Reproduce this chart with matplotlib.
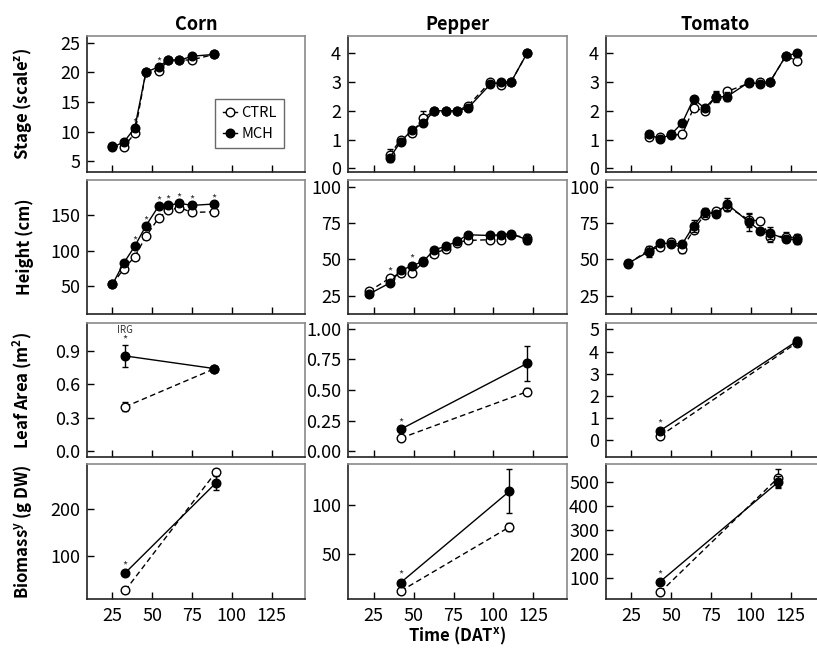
import matplotlib
matplotlib.use('Agg')
import matplotlib.pyplot as plt
from matplotlib.lines import Line2D

plt.rcParams['font.family'] = ['Noto Sans CJK KR', 'DejaVu Sans']
plt.rcParams['mathtext.default'] = 'regular'

# ---------------- data ----------------
crops = ['Corn', 'Pepper', 'Tomato']
row_labels = ['Stage (scale$^{z}$)', 'Height (cm)', 'Leaf Area (m$^{2}$)', 'Biomass$^{y}$ (g DW)']
x_label = 'Time (DAT$^{x}$)'
x_ticks = [25, 50, 75, 100, 125]

# Corn
corn_weekly_x = [25, 32, 39, 46, 54, 60, 67, 75, 89]
corn_stage_ctrl = [7.6, 7.4, 9.7, 20.0, 20.2, 22.0, 22.0, 22.1, 23.0]
corn_stage_mch = [7.4, 8.2, 10.6, 20.0, 20.9, 22.1, 22.0, 22.7, 23.0]
corn_stage_sig = [2, 4]
corn_height_ctrl = [52, 74, 91, 120, 146, 157, 161, 154, 155]
corn_height_mch = [52, 82, 106, 135, 163, 164, 167, 164, 166]
corn_height_sig = [2, 3, 4, 5, 6, 7, 8]
corn_leaf_x = [33, 89]
corn_leaf_ctrl = [0.40, 0.74]
corn_leaf_ctrl_err = [0.04, 0.02]
corn_leaf_mch = [0.855, 0.742]
corn_leaf_mch_err = [0.10, 0.02]
corn_leaf_sig = [0]
corn_bio_x = [33, 90]
corn_bio_ctrl = [28, 278]
corn_bio_ctrl_err = [2, 6]
corn_bio_mch = [65, 255]
corn_bio_mch_err = [3, 15]
corn_bio_sig = [0]

# Pepper
pepper_stage_x = [35, 42, 49, 56, 63, 70, 77, 84, 98, 105, 111, 121]
pepper_stage_ctrl = [0.46, 1.0, 1.22, 1.74, 2.0, 2.0, 2.0, 2.17, 3.0, 2.9, 3.0, 4.0]
pepper_stage_ctrl_err = [0.2, 0.05, 0.1, 0.25, 0, 0, 0, 0.08, 0.05, 0.05, 0, 0]
pepper_stage_mch = [0.35, 0.93, 1.33, 1.57, 2.0, 2.0, 2.0, 2.09, 2.92, 3.0, 3.0, 4.0]
pepper_stage_mch_err = [0.12, 0.05, 0.12, 0.1, 0, 0, 0, 0.05, 0.05, 0, 0, 0]
pepper_height_x = [22, 35, 42, 49, 56, 63, 70, 77, 84, 98, 105, 111, 121]
pepper_height_ctrl = [28, 37, 40.6, 40.6, 48, 53.7, 57.3, 61.5, 63, 63.5, 63.5, 67, 64.7]
pepper_height_mch = [26.1, 33.7, 42.4, 45.6, 48.6, 56.6, 58.9, 62.3, 66.9, 66.4, 66.9, 67.6, 63.5]
pepper_height_err = [1, 1, 1, 1, 1, 1, 1, 1, 1, 1, 1, 1, 3]
pepper_height_sig = [1, 3]
pepper_leaf_x = [42, 121]
pepper_leaf_ctrl = [0.108, 0.486]
pepper_leaf_ctrl_err = [0.01, 0.03]
pepper_leaf_mch = [0.181, 0.716]
pepper_leaf_mch_err = [0.01, 0.14]
pepper_leaf_sig = [0]
pepper_bio_x = [42, 110]
pepper_bio_ctrl = [12.8, 77.4]
pepper_bio_ctrl_err = [1, 4]
pepper_bio_mch = [21.3, 113.5]
pepper_bio_mch_err = [2, 22]
pepper_bio_sig = [0]

# Tomato
tomato_stage_x = [36, 43, 50, 57, 64, 71, 78, 85, 99, 106, 112, 122, 129]
tomato_stage_ctrl = [1.1, 1.1, 1.15, 1.18, 2.09, 2.0, 2.49, 2.67, 2.96, 3.0, 3.0, 3.9, 3.74]
tomato_stage_ctrl_err = [0.05, 0.05, 0, 0.12, 0.05, 0.05, 0.2, 0.08, 0.03, 0.03, 0, 0, 0.1]
tomato_stage_mch = [1.18, 1.02, 1.18, 1.59, 2.41, 2.09, 2.49, 2.49, 3.0, 2.92, 3.0, 3.91, 4.0]
tomato_stage_mch_err = [0.05, 0, 0, 0.08, 0, 0, 0.15, 0.15, 0, 0, 0, 0, 0]
tomato_height_x = [23, 36, 43, 50, 57, 64, 71, 78, 85, 99, 106, 112, 122, 129]
tomato_height_ctrl = [47, 56.6, 58.4, 61.6, 57.3, 70.3, 80.6, 83.3, 86.3, 77.1, 76.4, 65.7, 65.7, 64.6]
tomato_height_ctrl_err = [1, 2, 1, 2, 3, 2, 2, 2, 3, 5, 2, 4, 3, 3]
tomato_height_mch = [47.4, 55.4, 61.2, 60.7, 60.7, 73, 82.4, 81, 88.1, 75.5, 69.6, 68, 63.9, 63.5]
tomato_height_mch_err = [1, 4, 1, 1, 2, 4, 3, 2, 4, 6, 2, 4, 2, 3]
tomato_leaf_x = [43, 129]
tomato_leaf_ctrl = [0.18, 4.4]
tomato_leaf_ctrl_err = [0.03, 0.1]
tomato_leaf_mch = [0.42, 4.47]
tomato_leaf_mch_err = [0.05, 0.2]
tomato_leaf_sig = [0]
tomato_bio_x = [43, 117]
tomato_bio_ctrl = [41.7, 516.7]
tomato_bio_ctrl_err = [3, 36]
tomato_bio_mch = [86, 498.6]
tomato_bio_mch_err = [5, 25]
tomato_bio_sig = [0]

# y-axis settings per panel
ylims = [
    [(3.2, 26.1), (-0.13, 4.6), (-0.13, 4.6)],
    [(10, 200), (12.5, 104.5), (12.5, 104.5)],
    [(-0.05, 1.15), (-0.045, 1.045), (-0.77, 5.29)],
    [(10, 295), (4.7, 141), (14, 575)],
]
yticks = [
    [[5, 10, 15, 20, 25], [0, 1, 2, 3, 4], [0, 1, 2, 3, 4]],
    [[50, 100, 150], [25, 50, 75, 100], [25, 50, 75, 100]],
    [[0.0, 0.3, 0.6, 0.9], [0.0, 0.25, 0.5, 0.75, 1.0], [0, 1, 2, 3, 4, 5]],
    [[100, 200], [50, 100], [100, 200, 300, 400, 500]],
]
yfmt = [
    ['{:.0f}', '{:.0f}', '{:.0f}'],
    ['{:.0f}', '{:.0f}', '{:.0f}'],
    ['{:.1f}', '{:.2f}', '{:.0f}'],
    ['{:.0f}', '{:.0f}', '{:.0f}'],
]

def zeros(n):
    return [0] * n

panels = [
    [
        (corn_weekly_x, corn_stage_ctrl, zeros(9), corn_stage_mch, zeros(9), corn_stage_sig),
        (pepper_stage_x, pepper_stage_ctrl, pepper_stage_ctrl_err, pepper_stage_mch, pepper_stage_mch_err, []),
        (tomato_stage_x, tomato_stage_ctrl, tomato_stage_ctrl_err, tomato_stage_mch, tomato_stage_mch_err, []),
    ],
    [
        (corn_weekly_x, corn_height_ctrl, zeros(9), corn_height_mch, zeros(9), corn_height_sig),
        (pepper_height_x, pepper_height_ctrl, pepper_height_err, pepper_height_mch, pepper_height_err, pepper_height_sig),
        (tomato_height_x, tomato_height_ctrl, tomato_height_ctrl_err, tomato_height_mch, tomato_height_mch_err, []),
    ],
    [
        (corn_leaf_x, corn_leaf_ctrl, corn_leaf_ctrl_err, corn_leaf_mch, corn_leaf_mch_err, corn_leaf_sig),
        (pepper_leaf_x, pepper_leaf_ctrl, pepper_leaf_ctrl_err, pepper_leaf_mch, pepper_leaf_mch_err, pepper_leaf_sig),
        (tomato_leaf_x, tomato_leaf_ctrl, tomato_leaf_ctrl_err, tomato_leaf_mch, tomato_leaf_mch_err, tomato_leaf_sig),
    ],
    [
        (corn_bio_x, corn_bio_ctrl, corn_bio_ctrl_err, corn_bio_mch, corn_bio_mch_err, corn_bio_sig),
        (pepper_bio_x, pepper_bio_ctrl, pepper_bio_ctrl_err, pepper_bio_mch, pepper_bio_mch_err, pepper_bio_sig),
        (tomato_bio_x, tomato_bio_ctrl, tomato_bio_ctrl_err, tomato_bio_mch, tomato_bio_mch_err, tomato_bio_sig),
    ],
]

# ---------------- layout ----------------
W, H = 817, 651
fig = plt.figure(figsize=(W / 100, H / 100), dpi=100)
col_left = [87, 348, 606]
col_w = [218, 219, 218]
row_top = [36, 180, 323, 464]
row_bot = [172, 314, 457, 599]

TICK_FS = 13
LABEL_FS = 12
mk = 6.2

for r in range(4):
    for c in range(3):
        x0 = col_left[c] / W
        w = col_w[c] / W
        y0 = 1 - row_bot[r] / H
        h = (row_bot[r] - row_top[r]) / H
        ax = fig.add_axes([x0, y0, w, h])
        x, yc, ec, ym, em, sig = panels[r][c]

        ax.errorbar(x, yc, yerr=ec, color='black', lw=1.0, ls=(0, (4, 2.5)),
                    marker='o', ms=mk, mfc='white', mec='black', mew=1.0,
                    capsize=2.5, elinewidth=1.0, capthick=1.0, zorder=3)
        ax.errorbar(x, ym, yerr=em, color='black', lw=1.0, ls='-',
                    marker='o', ms=mk, mfc='black', mec='black', mew=1.0,
                    capsize=2.5, elinewidth=1.0, capthick=1.0, zorder=4)

        for i in sig:
            top = max(yc[i] + ec[i], ym[i] + em[i])
            ax.annotate('*', (x[i], top), xytext=(0, 0.5), textcoords='offset points',
                        ha='center', va='bottom', fontsize=8, color='#333333')
            if r == 2 and c == 0:
                ax.annotate('IRG', (x[i], top), xytext=(0, 7), textcoords='offset points',
                            ha='center', va='bottom', fontsize=7, color='#333333')

        ax.set_xlim(9, 146)
        ax.set_ylim(*ylims[r][c])
        ax.set_xticks(x_ticks)
        ax.set_yticks(yticks[r][c])
        ax.set_yticklabels([yfmt[r][c].format(v) for v in yticks[r][c]])
        ax.tick_params(direction='in', length=5, width=1.0, labelsize=TICK_FS,
                       pad=5, top=False, right=False)
        if r < 3:
            ax.tick_params(labelbottom=False)
        else:
            ax.tick_params(axis='x', pad=6)
        for s in ['left', 'bottom']:
            ax.spines[s].set_color('#222222')
            ax.spines[s].set_linewidth(1.2)
        for s in ['top', 'right']:
            ax.spines[s].set_color('#8a8a8a')
            ax.spines[s].set_linewidth(1.2)

        if r == 0:
            ax.set_title(crops[c], fontsize=13, fontweight='bold', pad=4)
        if c == 0:
            ax.set_ylabel(row_labels[r], fontsize=LABEL_FS, fontweight='bold')
            ax.yaxis.set_label_coords(-0.245, 0.5)
        if r == 3 and c == 1:
            ax.set_xlabel(x_label, fontsize=LABEL_FS, fontweight='bold', labelpad=0)
        if r == 0 and c == 0:
            handles = [
                Line2D([], [], color='black', lw=1.0, marker='o', ms=mk, mfc='white', mec='black'),
                Line2D([], [], color='black', lw=1.0, marker='o', ms=mk, mfc='black', mec='black'),
            ]
            leg = ax.legend(handles, ['CTRL', 'MCH'], loc='upper right',
                            bbox_to_anchor=(0.905, 0.54), fontsize=10.5, frameon=True,
                            fancybox=False, handlelength=1.0, handletextpad=0.3,
                            borderpad=0.5, labelspacing=0.5, borderaxespad=0)
            leg.get_frame().set_edgecolor('#444444')
            leg.get_frame().set_linewidth(1.0)

fig.savefig('out.png', dpi=100)
